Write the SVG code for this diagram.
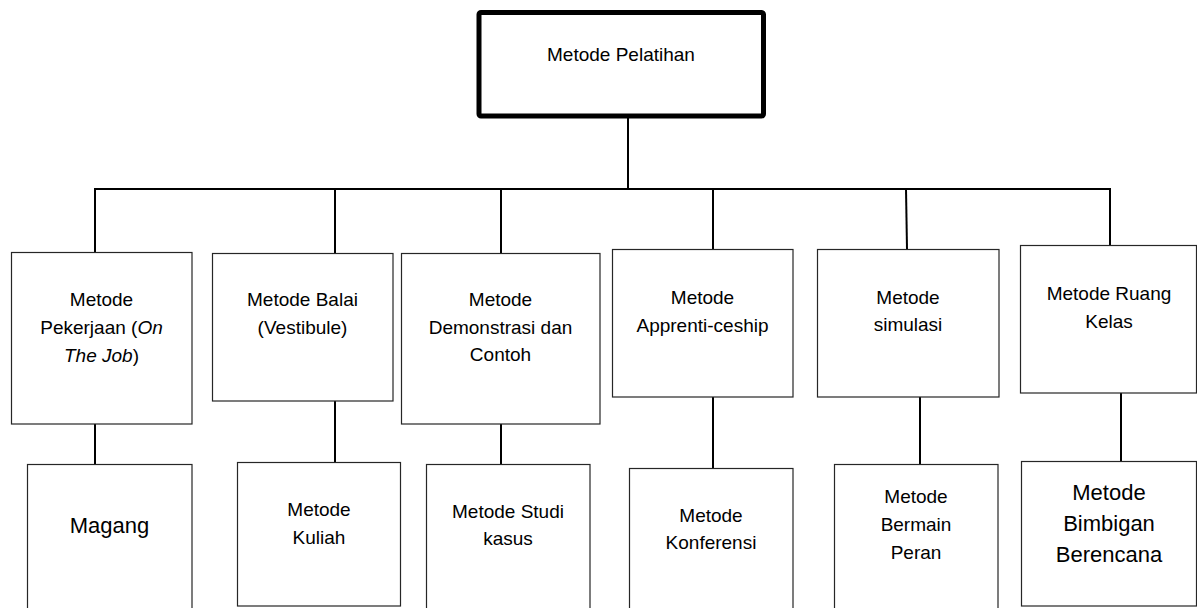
<svg xmlns="http://www.w3.org/2000/svg" width="1197" height="608" viewBox="0 0 1197 608">
<style>
.box{fill:#fff;stroke:#262626;stroke-width:1.2}
.root{fill:#fff;stroke:#000;stroke-width:5}
.lbl{font-family:"Liberation Sans",Arial,sans-serif;font-size:19px;fill:#000;text-anchor:middle}
.big{font-size:22px}
.conn line{stroke:#000;stroke-width:2}
</style>
<rect width="1197" height="608" fill="#fff"/>
<g class="conn" id="connectors">
<line x1="628" y1="118" x2="628" y2="189"/>
<line x1="94" y1="189" x2="1111" y2="189"/>
<line x1="95" y1="189" x2="95" y2="252"/>
<line x1="335" y1="189" x2="335" y2="253"/>
<line x1="501" y1="189" x2="501" y2="253"/>
<line x1="713" y1="189" x2="713" y2="249"/>
<line x1="906" y1="189" x2="907" y2="249"/>
<line x1="1110" y1="189" x2="1110" y2="245"/>
<line x1="95" y1="424" x2="95" y2="464"/>
<line x1="335" y1="401" x2="335" y2="462"/>
<line x1="501" y1="424" x2="501" y2="464"/>
<line x1="713" y1="397" x2="713" y2="468"/>
<line x1="920" y1="397" x2="920" y2="464"/>
<line x1="1121" y1="393" x2="1121" y2="461"/>
</g>
<g id="root">
<rect class="root" x="479" y="12.5" width="284.5" height="103.5" rx="2"/>
<text class="lbl" x="621" y="61">Metode Pelatihan</text>
</g>
<g id="n1">
<rect class="box" x="11.5" y="252.5" width="180.5" height="171.5"/>
<text class="lbl" x="101.5" y="306">Metode</text>
<text class="lbl" x="101.5" y="334">Pekerjaan (<tspan font-style="italic">On</tspan></text>
<text class="lbl" x="101.5" y="362"><tspan font-style="italic">The Job</tspan>)</text>
</g>
<g id="n2">
<rect class="box" x="212.5" y="253.5" width="180.5" height="147.5"/>
<text class="lbl" x="302.5" y="306">Metode Balai</text>
<text class="lbl" x="302.5" y="334">(Vestibule)</text>
</g>
<g id="n3">
<rect class="box" x="401.5" y="253.5" width="198.5" height="170.5"/>
<text class="lbl" x="500.5" y="306">Metode</text>
<text class="lbl" x="500.5" y="334">Demonstrasi dan</text>
<text class="lbl" x="500.5" y="361">Contoh</text>
</g>
<g id="n4">
<rect class="box" x="612.5" y="249.5" width="180.5" height="147.5"/>
<text class="lbl" x="702.5" y="304">Metode</text>
<text class="lbl" x="702.5" y="332">Apprenti-ceship</text>
</g>
<g id="n5">
<rect class="box" x="817.5" y="249.5" width="181.5" height="147.5"/>
<text class="lbl" x="908" y="304">Metode</text>
<text class="lbl" x="908" y="331">simulasi</text>
</g>
<g id="n6">
<rect class="box" x="1020.5" y="245.5" width="176" height="147.5"/>
<text class="lbl" x="1109" y="300">Metode Ruang</text>
<text class="lbl" x="1109" y="328">Kelas</text>
</g>
<g id="c1">
<rect class="box" x="27.5" y="464.5" width="164.5" height="160"/>
<text class="lbl big" x="109.5" y="533">Magang</text>
</g>
<g id="c2">
<rect class="box" x="237.5" y="462.5" width="163" height="143.5"/>
<text class="lbl" x="319" y="516">Metode</text>
<text class="lbl" x="319" y="544">Kuliah</text>
</g>
<g id="c3">
<rect class="box" x="426.5" y="464.5" width="163.5" height="160"/>
<text class="lbl" x="508" y="518">Metode Studi</text>
<text class="lbl" x="508" y="545">kasus</text>
</g>
<g id="c4">
<rect class="box" x="629.5" y="468.5" width="163.5" height="160"/>
<text class="lbl" x="711" y="522">Metode</text>
<text class="lbl" x="711" y="549">Konferensi</text>
</g>
<g id="c5">
<rect class="box" x="834.5" y="464.5" width="163.5" height="160"/>
<text class="lbl" x="916" y="503">Metode</text>
<text class="lbl" x="916" y="531">Bermain</text>
<text class="lbl" x="916" y="559">Peran</text>
</g>
<g id="c6">
<rect class="box" x="1021.5" y="461.5" width="175" height="144.5"/>
<text class="lbl big" x="1109" y="500">Metode</text>
<text class="lbl big" x="1109" y="531">Bimbigan</text>
<text class="lbl big" x="1109" y="562">Berencana</text>
</g>
</svg>
